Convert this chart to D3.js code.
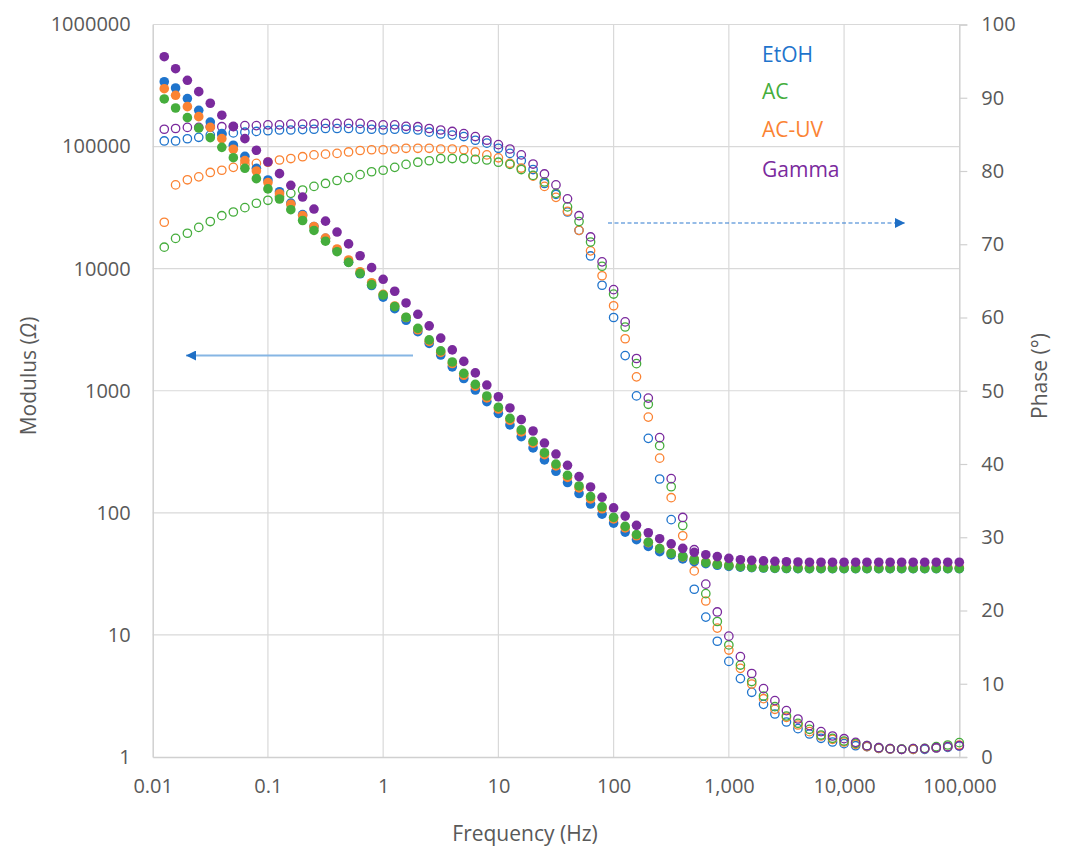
<!DOCTYPE html>
<html><head><meta charset="utf-8">
<script src="https://cdn.jsdelivr.net/npm/d3@7"></script>
<style>
html,body{margin:0;padding:0;background:#fff;}
text{font-family:"Open Sans",sans-serif;}
</style></head>
<body>
<svg id="chart" width="1067" height="850"></svg>
<script>
// ---- DATA ----
const freq = [
 0.0126,0.0158,0.02,0.0251,0.0316,0.0398,0.0501,0.0631,0.0794,0.1,
 0.126,0.158,0.2,0.251,0.316,0.398,0.501,0.631,0.794,1,
 1.26,1.58,2,2.51,3.16,3.98,5.01,6.31,7.94,10,
 12.6,15.8,20,25.1,31.6,39.8,50.1,63.1,79.4,100,
 126,158,200,251,316,398,501,631,794,1000,
 1260,1580,2000,2510,3160,3980,5010,6310,7940,10000,
 12600,15800,20000,25100,31600,39800,50100,63100,79400,100000];

const seriesNames = ["EtOH","AC","AC-UV","Gamma"];

const modEtOH = [339600,302000,247200,198200,158900,127600,102600,83200,66400,53300,
 42700,34400,27700,22100,17700,14130,11300,9080,7280,5850,
 4700,3780,3050,2440,1960,1570,1260,1014,815,653,
 525,421,340,271,219,177,144,118,97.5,82.4,
 69.5,60.3,53.1,48.1,45.2,41.9,39.8,38.3,37.2,36.4,
 35.9,35.6,35.3,35.1,35.0,34.9,34.9,34.9,34.9,34.9,
 34.9,34.9,34.9,34.9,34.9,34.9,34.9,34.9,34.9,34.9];
const modAC = [245500,207000,172600,141900,118300,98600,81100,66400,54600,45000,
 37200,30400,24800,20560,16790,13770,11270,9160,7400,6080,
 4890,4000,3240,2610,2120,1720,1390,1130,906,733,
 594,478,385,311,251,203,166,136,112,91.8,
 77.4,66.4,57.5,50.9,46.5,43.8,41.1,39.1,37.8,36.9,
 36.2,35.8,35.5,35.2,35.1,35.1,35.0,35.0,35.0,35.0,
 35.0,35.0,35.0,35.0,35.0,35.0,35.0,35.0,35.0,35.0];
const modACUV = [297800,263000,212300,175800,143900,116100,95100,76700,63100,50700,
 41100,33700,27200,22100,17800,14490,11780,9440,7670,6170,
 4950,3980,3160,2540,2060,1670,1340,1090,875,708,
 573,460,372,300,242,195,160,130,108,89.1,
 75.3,64.9,56.9,50.9,46.8,43.6,41.2,39.4,38.0,37.1,
 36.5,36.1,35.8,35.6,35.6,35.6,35.6,35.6,35.6,35.6,
 35.6,35.6,35.6,35.6,35.6,35.6,35.6,35.6,35.6,35.6];
const modGamma = [545000,434500,349100,281800,226500,180700,145500,116100,93300,74800,
 60000,48200,38600,30800,24500,19950,15960,12760,10190,8180,
 6530,5240,4230,3400,2700,2160,1740,1400,1114,893,
 723,580,468,373,303,245,198,163,134,110,
 94,79,68.7,61.4,55.7,51.2,47.5,45.4,43.8,42.4,
 41.3,40.8,40.4,40.1,39.8,39.6,39.4,39.4,39.4,39.4,
 39.4,39.4,39.4,39.4,39.4,39.4,39.4,39.4,39.4,39.4];

const phEtOH = [84.1,84.1,84.4,84.6,84.9,85.0,85.2,85.3,85.4,85.5,
 85.6,85.6,85.65,85.7,85.8,85.8,85.8,85.7,85.7,85.6,
 85.7,85.7,85.6,85.3,85.05,84.9,84.7,84.2,83.8,83.1,
 82.4,81.4,80.2,78.3,76.8,74.4,71.9,68.4,64.4,60.0,
 54.8,49.3,43.5,37.95,32.4,27.4,22.9,19.1,15.8,13.05,
 10.7,8.83,7.19,5.87,4.78,3.87,3.14,2.55,2.05,1.82,
 1.54,1.41,1.19,1.09,1.05,1.05,1.05,1.23,1.32,1.5];
const phAC = [69.6,70.8,71.5,72.3,73.1,73.9,74.4,75.0,75.6,76.0,
 76.5,76.95,77.4,77.9,78.3,78.7,79.1,79.5,79.9,80.1,
 80.5,80.9,81.2,81.4,81.7,81.7,81.7,81.6,81.5,81.2,
 80.9,80.2,79.4,78.5,76.95,75.1,73.1,70.3,67.0,63.2,
 58.7,53.7,48.15,42.5,36.9,31.6,27.0,22.3,18.5,15.3,
 12.55,10.3,8.33,6.87,5.6,4.6,3.78,3.0,2.55,2.18,
 1.87,1.54,1.27,1.14,1.09,1.14,1.18,1.41,1.64,1.96];
const phACUV = [73.0,78.1,78.8,79.2,79.8,80.1,80.5,80.9,81.05,81.2,
 81.5,81.7,81.95,82.2,82.3,82.4,82.6,82.8,82.9,82.9,
 83.0,83.1,83.1,83.1,83.0,83.0,82.9,82.6,82.2,81.8,
 81.05,80.4,79.3,77.9,76.4,74.5,71.9,69.1,65.7,61.6,
 57.1,51.9,46.4,40.8,35.4,30.2,25.4,21.3,17.6,14.6,
 12.1,9.96,7.96,6.51,5.42,4.37,3.46,2.87,2.41,2.05,
 1.73,1.41,1.18,1.09,1.05,1.05,1.14,1.27,1.41,1.64];
const phGamma = [85.7,85.8,85.95,85.95,86.05,86.05,86.1,86.2,86.2,86.3,
 86.3,86.4,86.4,86.45,86.5,86.5,86.5,86.5,86.3,86.3,
 86.3,86.1,86.05,85.8,85.6,85.4,85.1,84.7,84.2,83.6,
 83.0,82.2,80.95,79.6,78.1,76.2,73.9,71.0,67.6,63.8,
 59.4,54.4,49.0,43.6,38.0,32.7,28.3,23.6,19.8,16.5,
 13.7,11.4,9.33,7.69,6.33,5.19,4.28,3.46,2.87,2.5,
 2.0,1.54,1.27,1.14,1.05,1.14,1.14,1.27,1.41,1.54];

const xTicks = [0.01,0.1,1,10,100,1000,10000,100000];
const xTickLabels = ["0.01","0.1","1","10","100","1,000","10,000","100,000"];
const yLTicks = [1,10,100,1000,10000,100000,1000000];
const yLTickLabels = ["1","10","100","1000","10000","100000","1000000"];
const yRTicks = [0,10,20,30,40,50,60,70,80,90,100];

// ---- STYLE ----
const colors = {"EtOH":"#1f74cc","AC":"#45ad3c","AC-UV":"#fb8333","Gamma":"#7a2a9d"};
const L=152.7, R=959.3, T=24.5, B=757;
const svg = d3.select("#chart");
const x = d3.scaleLog().domain([0.01,100000]).range([L,R]);
const yL = d3.scaleLog().domain([1,1000000]).range([B,T]);
const yR = d3.scaleLinear().domain([0,100]).range([B,T]);
const txt = "#595959", grid = "#d9d9d9";

// gridlines
svg.append("g").selectAll("line").data(yLTicks.slice(1)).join("line")
  .attr("x1",L).attr("x2",R).attr("y1",d=>yL(d)).attr("y2",d=>yL(d))
  .attr("stroke",grid).attr("stroke-width",1.2);
svg.append("g").selectAll("line").data(xTicks.slice(1,-1)).join("line")
  .attr("y1",T).attr("y2",B).attr("x1",d=>x(d)).attr("x2",d=>x(d))
  .attr("stroke",grid).attr("stroke-width",1.2);

// axes
const gx = svg.append("g").attr("transform",`translate(0,${B})`)
  .call(d3.axisBottom(x).tickValues(xTicks).tickFormat((d,i)=>xTickLabels[i]).tickSize(0).tickPadding(22));
const gl = svg.append("g").attr("transform",`translate(${L},0)`)
  .call(d3.axisLeft(yL).tickValues(yLTicks).tickFormat((d,i)=>yLTickLabels[i]).tickSize(0).tickPadding(22));
const gr = svg.append("g").attr("transform",`translate(${R},0)`)
  .call(d3.axisRight(yR).tickValues(yRTicks).tickSize(8).tickPadding(14));
[gx,gl,gr].forEach(g=>{
  g.select(".domain").attr("stroke","#d0d0d0").attr("stroke-width",1.5);
  g.selectAll(".tick line").attr("stroke","#d0d0d0").attr("stroke-width",1.2);
  g.selectAll(".tick text").attr("fill",txt).style("font-size","20px").style("font-family","'Open Sans',sans-serif");
});

// phase (open circles)
const phase = [["EtOH",phEtOH],["AC-UV",phACUV],["AC",phAC],["Gamma",phGamma]];
phase.forEach(([n,arr])=>{
  svg.append("g").selectAll("circle").data(arr).join("circle")
    .attr("cx",(d,i)=>x(freq[i])).attr("cy",d=>yR(d)).attr("r",4.2)
    .attr("fill","none").attr("stroke",colors[n]).attr("stroke-width",1.3);
});
// modulus (filled)
const mods = [["EtOH",modEtOH],["AC-UV",modACUV],["AC",modAC],["Gamma",modGamma]];
mods.forEach(([n,arr])=>{
  svg.append("g").selectAll("circle").data(arr).join("circle")
    .attr("cx",(d,i)=>x(freq[i])).attr("cy",d=>yL(d)).attr("r",4.8)
    .attr("fill",colors[n]);
});

// arrows
const defs = svg.append("defs");
defs.append("marker").attr("id","ah").attr("viewBox","0 0 10 10").attr("refX",10).attr("refY",5)
  .attr("markerWidth",10).attr("markerHeight",10).attr("markerUnits","userSpaceOnUse").attr("orient","auto")
  .append("path").attr("d","M0,0 L10,5 L0,10 Z").attr("fill","#1f6fc5");
svg.append("line").attr("x1",413).attr("y1",355.5).attr("x2",186).attr("y2",355.5)
  .attr("stroke","#86b6e4").attr("stroke-width",2).attr("marker-end","url(#ah)");
svg.append("line").attr("x1",608).attr("y1",223).attr("x2",905).attr("y2",223)
  .attr("stroke","#2f7bd0").attr("stroke-width",1.1).attr("stroke-dasharray","4,2.5").attr("marker-end","url(#ah)");

// legend text
seriesNames.forEach((n,i)=>{
  svg.append("text").attr("x",762).attr("y",[62,99,137,177][i]).text(n)
    .attr("fill",colors[n]).style("font-size","21px");
});

// axis titles
svg.append("text").attr("transform","translate(36,376) rotate(-90)").attr("text-anchor","middle")
  .attr("fill",txt).style("font-size","21px")
  .html('Modulus (<tspan font-style="italic">Ω</tspan>)');
svg.append("text").attr("transform","translate(1047,376) rotate(-90)").attr("text-anchor","middle")
  .attr("fill",txt).style("font-size","21px").text("Phase (°)");
svg.append("text").attr("x",525).attr("y",841).attr("text-anchor","middle")
  .attr("fill",txt).style("font-size","21px").text("Frequency (Hz)");
</script>
</body></html>
